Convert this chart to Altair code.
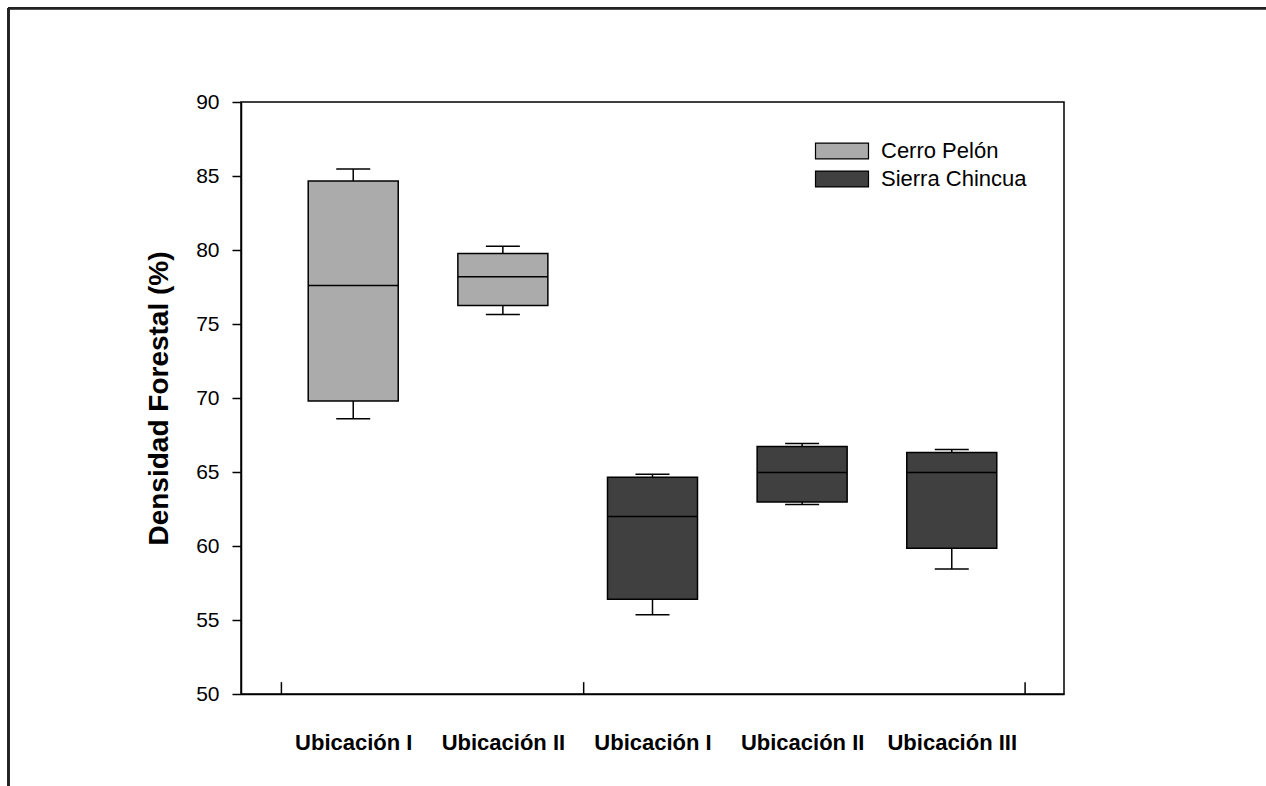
import altair as alt
import pandas as pd

# Box summaries per location (forest density, %)
sites = ["Cerro Pelón", "Cerro Pelón", "Sierra Chincua", "Sierra Chincua", "Sierra Chincua"]
locations = ["Ubicación I", "Ubicación II", "Ubicación I", "Ubicación II", "Ubicación III"]
positions = [0.75, 1.75, 2.75, 3.75, 4.75]
whisker_low = [68.6, 75.65, 55.35, 62.8, 58.45]
q1 = [69.8, 76.25, 56.4, 62.97, 59.85]
median = [77.6, 78.2, 62.0, 64.96, 64.96]
q3 = [84.67, 79.76, 64.65, 66.72, 66.32]
whisker_high = [85.47, 80.25, 64.85, 66.92, 66.52]

series = ["Cerro Pelón", "Sierra Chincua"]
series_colors = ["#ababab", "#404040"]

# Inward tick marks along the category axis
minor_ticks = [0.27, 2.29, 5.24]

y_ticks = [50, 55, 60, 65, 70, 75, 80, 85, 90]

FONT = "Liberation Sans"

df = pd.DataFrame({
    "site": sites,
    "loc": locations,
    "pos": positions,
    "lo": whisker_low,
    "q1": q1,
    "med": median,
    "q3": q3,
    "hi": whisker_high,
})
ticks_df = pd.DataFrame({"pos": minor_ticks, "y0": [50] * 3, "y1": [50.8] * 3})

label_expr = "[" + ",".join(f"'{l}'" for l in locations) + "][round(datum.value - 0.75)]"

x_enc = alt.X(
    "pos:Q",
    scale=alt.Scale(domain=[0, 5.5], nice=False, zero=False, padding=0),
    axis=alt.Axis(
        values=positions,
        labelExpr=label_expr,
        ticks=False,
        tickSize=0,
        labelPadding=38,
        labelFont=FONT,
        labelFontSize=22,
        labelFontWeight="bold",
        labelColor="#000000",
        domainColor="#000000",
        domainWidth=1.5,
        grid=False,
        title=None,
    ),
)
y_scale = alt.Scale(domain=[50, 90], nice=False, zero=False, padding=0)
y_axis = alt.Axis(
    values=y_ticks,
    tickSize=9,
    tickColor="#000000",
    tickWidth=1.5,
    labelPadding=13,
    labelFont=FONT,
    labelFontSize=21,
    labelColor="#000000",
    domainColor="#000000",
    domainWidth=1.5,
    grid=False,
    title="Densidad Forestal (%)",
    titleFont=FONT,
    titleFontSize=28,
    titleFontWeight="bold",
    titleColor="#000000",
    titlePadding=22,
)

base = alt.Chart(df)

whiskers = base.mark_rule(color="#000000", strokeWidth=1.5).encode(
    x=x_enc,
    y=alt.Y("lo:Q", scale=y_scale, axis=y_axis),
    y2="hi:Q",
)

# Wide, flat swatch: path spans 4 x 1.2 units, scaled by sqrt(size)/2
boxes = base.mark_bar(size=90, orient="vertical", stroke="#000000", strokeWidth=1.5).encode(
    x="pos:Q",
    y="q1:Q",
    y2="q3:Q",
    color=alt.Color(
        "site:N",
        scale=alt.Scale(domain=series, range=series_colors),
        legend=alt.Legend(
            title=None,
            orient="none",
            legendX=587,
            legendY=35,
            padding=0,
            symbolType="M-2,-0.6H2V0.6H-2Z",
            symbolSize=702,
            symbolStrokeColor="#000000",
            symbolStrokeWidth=1.2,
            symbolOpacity=1,
            labelFont=FONT,
            labelFontSize=22,
            labelColor="#000000",
            labelOffset=25,
            rowPadding=3,
        ),
    ),
)

medians = base.mark_tick(orient="horizontal", size=90, thickness=1.5, color="#000000", opacity=1).encode(
    x="pos:Q",
    y="med:Q",
)

caps_hi = base.mark_tick(orient="horizontal", size=34, thickness=1.5, color="#000000", opacity=1).encode(
    x="pos:Q",
    y="hi:Q",
)
caps_lo = base.mark_tick(orient="horizontal", size=34, thickness=1.5, color="#000000", opacity=1).encode(
    x="pos:Q",
    y="lo:Q",
)

inner_ticks = alt.Chart(ticks_df).mark_rule(color="#000000", strokeWidth=1.5).encode(
    x="pos:Q",
    y="y0:Q",
    y2="y1:Q",
)

# Page frame lines (left and top edges)
frame_left = alt.Chart(df).mark_rule(color="#222222", strokeWidth=2).encode(
    x=alt.value(-232.5), y=alt.value(-94), y2=alt.value(800)
)
frame_top = alt.Chart(df).mark_rule(color="#222222", strokeWidth=2).encode(
    x=alt.value(-233), x2=alt.value(1100), y=alt.value(-93.7)
)

chart = (
    alt.layer(frame_left, frame_top, whiskers, boxes, medians, caps_hi, caps_lo, inner_ticks)
    .properties(
        width=823,
        height=592,
        autosize=alt.AutoSizeParams(type="none"),
        padding={"left": 241, "top": 102, "right": 202, "bottom": 92},
        background="#ffffff",
    )
    .configure_view(stroke="#000000", strokeWidth=1.5)
)

chart.save("out.html", embed_options={"renderer": "svg", "actions": False})
